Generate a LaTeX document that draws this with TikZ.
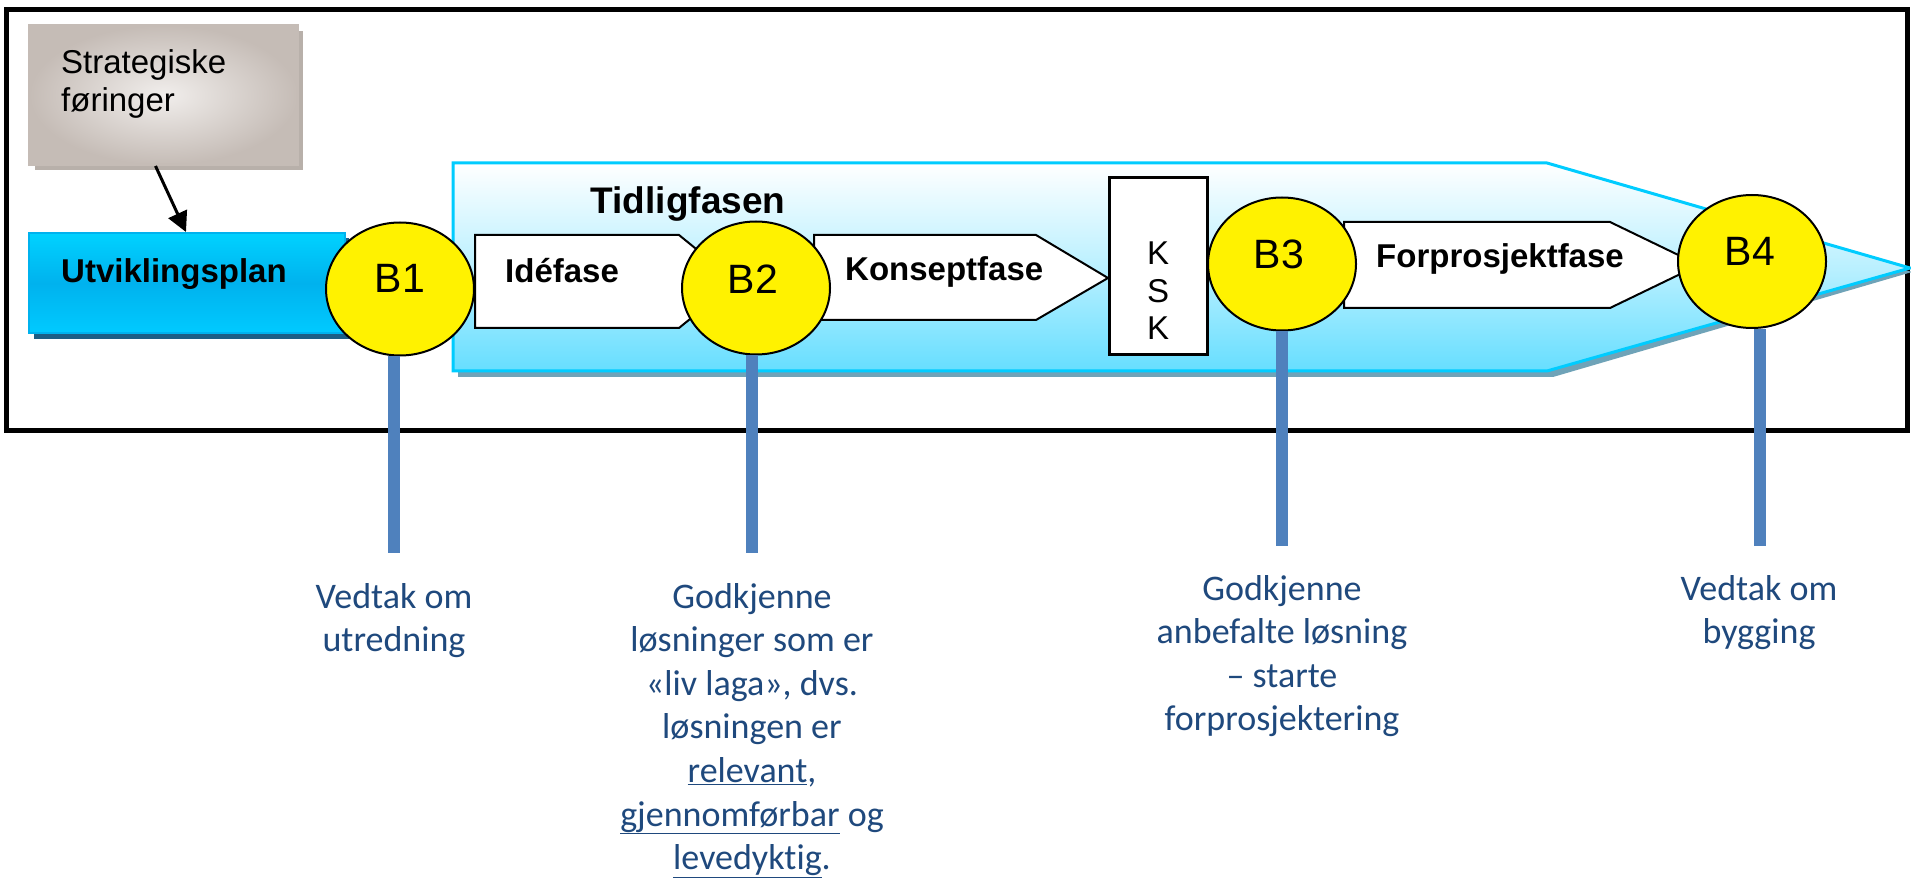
\documentclass[tikz,border=0pt]{standalone}
\usepackage{fontspec}
\setmainfont{Liberation Sans}
\newfontfamily\calfont[Ligatures=NoCommon]{Carlito}
\usetikzlibrary{arrows.meta,calc,shapes.geometric}
\definecolor{labelblue}{HTML}{1F497D}
\definecolor{stemblue}{HTML}{4F81BD}
\definecolor{cyanline}{HTML}{00CCFF}
\definecolor{cyanlow}{HTML}{66DEFF}
\definecolor{arrshadow}{HTML}{6FA3B8}
\definecolor{utvtop}{HTML}{00D2FF}
\definecolor{utvmid}{HTML}{00B2EE}
\definecolor{utvbot}{HTML}{00CAFF}
\definecolor{utvshadow}{HTML}{1D5E85}
\definecolor{stratedge}{HTML}{C5BCB6}
\definecolor{stratin}{HTML}{F1EEEC}
\definecolor{stratshadow}{HTML}{B8B0AA}
\tikzset{
  phase/.style={draw=black, line width=2pt, fill=white, line join=miter},
  gate/.style={ellipse, draw=black, line width=2pt, fill=yellow, minimum width=148pt, minimum height=133pt, inner sep=0pt},
  gatetext/.style={anchor=base, inner sep=0pt, font=\fontsize{41}{41}\selectfont},
  phasetext/.style={anchor=base west, inner sep=0pt, font=\bfseries\fontsize{33}{38}\selectfont},
  stemline/.style={draw=stemblue, line width=12pt},
  decision/.style={anchor=base, inner sep=0pt, align=center, text=labelblue, font=\calfont\fontsize{36}{43.6}\selectfont},
}
\begin{document}
\begin{tikzpicture}[x=1pt,y=-1pt]
\useasboundingbox (0,0) rectangle (1911,882);
\fill[white] (0,0) rectangle (1911,882);

% outer frame
\draw[line width=5pt] (6,10) rectangle (1907,430);

% Strategiske foringer
\fill[stratshadow] (35,31) rectangle (303,170);
\node[draw=stratedge, line width=3pt, inner color=stratin, outer color=stratedge,
      minimum width=268pt, minimum height=139pt, inner sep=0pt] (strat) at (163.5,95) {};
\node[anchor=base west, inner sep=0pt, align=left, font=\fontsize{33}{38}\selectfont] (stratt) at (61,112) {Strategiske\\føringer};

% Utviklingsplan
\fill[utvshadow] (34,238) rectangle (349,339);
\node[draw=utvmid, line width=2pt, top color=utvtop, bottom color=utvbot, middle color=utvmid,
      minimum width=316pt, minimum height=100pt, inner sep=0pt] (utv) at (187,283) {};
\node[anchor=base west, inner sep=0pt, font=\bfseries\fontsize{33}{38}\selectfont] (utvt) at (61,283) {Utviklingsplan};

\draw[line width=3pt, -{Triangle[length=20pt,width=20pt]}] ([xshift=-8pt]strat.south) -- ([xshift=-1pt]utv.north);

% Tidligfasen big arrow
\fill[arrshadow] (458,168) -- (1553,168) -- (1912,272) -- (1553,377) -- (458,377) -- cycle;
\shade[top color=white, bottom color=cyanlow, middle color=cyanlow!45] (453,163) -- (1547,163) -- (1910,268) -- (1547,371) -- (453,371) -- cycle;
\draw[cyanline, line width=3pt, line join=miter] (453,163) -- (1547,163) -- (1910,268) -- (1547,371) -- (453,371) -- cycle;
\node[anchor=base, inner sep=0pt, font=\bfseries\fontsize{37}{40}\selectfont] (tidl) at (688,214) {Tidligfasen};

% phases
\draw[phase] (475,235) -- (679,235) -- (736,281.5) -- (679,328) -- (475,328) -- cycle;
\node[phasetext] (ide) at (505,283) {Idéfase};
\draw[phase] (814,235) -- (1036,235) -- (1108,278) -- (1036,320) -- (814,320) -- cycle;
\node[phasetext] (kons) at (845,281) {Konseptfase};
\draw[phase] (1344,222) -- (1610,222) -- (1699,265) -- (1610,308) -- (1344,308) -- cycle;
\node[phasetext] (forp) at (1376,268) {Forprosjektfase};

% KSK
\node[draw=black, line width=3pt, fill=white, minimum width=98pt, minimum height=177pt, inner sep=0pt] (ksk) at (1158,266.5) {};
\node[anchor=base, inner sep=0pt, align=center, font=\fontsize{33}{37.5}\selectfont] (kskt) at (1158,340) {K\\S\\K};

% gates
\node[gate] (B1) at (400,289) {};
\node[gate] (B2) at (756,288) {};
\node[gate] (B3) at (1282,264) {};
\node[gate] (B4) at (1752,261.5) {};
\node[gatetext] (B1t) at (400,293) {B1};
\node[gatetext] (B2t) at (753,294) {B2};
\node[gatetext] (B3t) at (1279,269) {B3};
\node[gatetext] (B4t) at (1750,266) {B4};

% stems
\coordinate (s1) at (394,553);
\coordinate (s2) at (752,553);
\coordinate (s3) at (1282,546);
\coordinate (s4) at (1760,546);
\draw[stemline] (B1.south -| s1) -- (s1);
\draw[stemline] (B2.south -| s2) -- (s2);
\draw[stemline] (B3.south -| s3) -- (s3);
\draw[stemline] (B4.south -| s4) -- (s4);

% decisions (anchor = baseline of last line)
\node[decision] (d1) at (394,651.6) {Vedtak om\\utredning};
\node[decision] (d2) at (752,869.6) {Godkjenne\\løsninger som er\\«liv laga», dvs.\\løsningen er\\\underline{relevant},\\\underline{gjennomførbar} og\\\underline{levedyktig}.};
\node[decision] (d3) at (1282,730.8) {Godkjenne\\anbefalte løsning\\– starte\\forprosjektering};
\node[decision] (d4) at (1759,643.6) {Vedtak om\\bygging};
\end{tikzpicture}
\end{document}
